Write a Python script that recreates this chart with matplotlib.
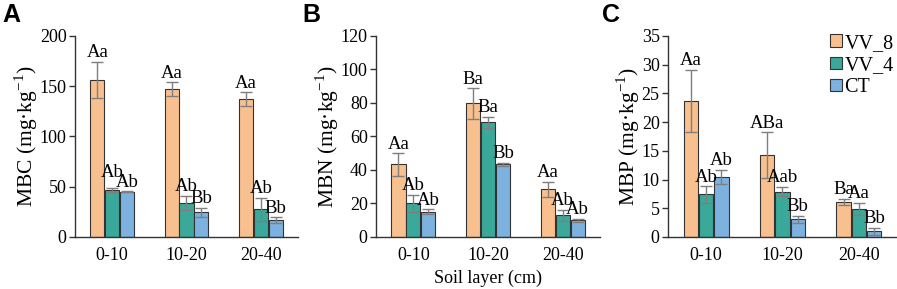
import matplotlib
matplotlib.use("Agg")
import matplotlib.pyplot as plt
import numpy as np

plt.rcParams["font.family"] = ["Liberation Serif", "DejaVu Serif"]
plt.rcParams["mathtext.fontset"] = "custom"
plt.rcParams["mathtext.rm"] = "Liberation Serif"

layers = ["0-10", "10-20", "20-40"]
treatments = ["VV_8", "VV_4", "CT"]
colors = ["#F9C08F", "#3AA99A", "#7DB1E0"]

# MBC
mbc_mean = [[156, 147, 137], [47, 34, 27.5], [45, 24.5, 16.5]]
mbc_err = [[18, 7, 7], [2, 7, 11.5], [0.4, 4.5, 3]]
mbc_lab = [["Aa", "Aa", "Aa"], ["Ab", "Ab", "Ab"], ["Ab", "Bb", "Bb"]]

# MBN
mbn_mean = [[43.3, 79.7, 28.5], [20, 68.4, 13], [15, 43.3, 10]]
mbn_err = [[6.7, 9, 4.5], [5, 3.5, 3.2], [1.5, 1, 0.8]]
mbn_lab = [["Aa", "Ba", "Aa"], ["Ab", "Ba", "Ab"], ["Ab", "Bb", "Ab"]]

# MBP
mbp_mean = [[23.7, 14.2, 6.1], [7.4, 7.9, 4.9], [10.5, 3.1, 1.0]]
mbp_err = [[5.4, 4, 0.6], [1.4, 0.8, 1.0], [1.2, 0.6, 0.6]]
mbp_lab = [["Aa", "ABa", "Ba"], ["Ab", "Aab", "Aa"], ["Ab", "Bb", "Bb"]]

panels = [
    ("A", "MBC", mbc_mean, mbc_err, mbc_lab, 200, 50),
    ("B", "MBN", mbn_mean, mbn_err, mbn_lab, 120, 20),
    ("C", "MBP", mbp_mean, mbp_err, mbp_lab, 35, 5),
]
positions = [
    [0.0836, 0.18, 0.2486, 0.6955],
    [0.4192, 0.18, 0.2497, 0.6955],
    [0.7447, 0.18, 0.2553, 0.6955],
]
letter_x = [2, 302, 602]

fig = plt.figure(figsize=(8.97, 2.89), dpi=100)
x = np.arange(len(layers))
w = 0.19
offsets = [-0.2, 0.0, 0.2]

for (letter, name, mean, err, lab, ymax, step), pos, lx in zip(panels, positions, letter_x):
    ax = fig.add_axes(pos)
    for k in range(3):
        ax.bar(x + offsets[k], mean[k], w, color=colors[k], edgecolor="#333333",
               linewidth=0.8, label=treatments[k], zorder=2)
        ax.errorbar(x + offsets[k], mean[k], yerr=err[k], fmt="none",
                    ecolor="#7f7f7f", elinewidth=1.0, capsize=4, capthick=1.0, zorder=3)
        for i in range(3):
            # the teal label in panel A, 0-10 sits a bit higher in the original
            dy = 5 if (letter == "A" and k == 1 and i == 0) else 0.5
            ax.annotate(lab[k][i], (x[i] + offsets[k], mean[k][i] + err[k][i]),
                        xytext=(0, dy), textcoords="offset points",
                        ha="center", va="bottom", fontsize=13.5)
    ax.set_xlim(-0.5, 2.5)
    ax.set_ylim(0, ymax)
    ax.set_yticks(np.arange(0, ymax + 1, step))
    ax.set_xticks(x)
    ax.set_xticklabels(layers)
    ax.tick_params(axis="x", length=0, labelsize=13, pad=7)
    ax.tick_params(axis="y", length=4, width=1, color="#333333", labelsize=13, pad=2)
    for s in ["top", "right"]:
        ax.spines[s].set_visible(False)
    for s in ["left", "bottom"]:
        ax.spines[s].set_color("#333333")
        ax.spines[s].set_linewidth(1.0)
    ax.set_ylabel(name + r" (mg·kg$^{\mathregular{-1}}$)", fontsize=15.5, labelpad=0)
    fig.text(lx / 897, 1 - 15.5 / 289, letter, fontsize=18, fontweight="bold",
             family="Liberation Sans", ha="left", va="center")
    if letter == "B":
        ax.set_xlabel("Soil layer (cm)", fontsize=13, labelpad=4.5)
    if letter == "C":
        ax.legend(loc="upper right", bbox_to_anchor=(1.02, 1.05), frameon=False,
                  fontsize=14.5, handlelength=0.6, handleheight=0.6,
                  handletextpad=0.1, labelspacing=0.15, borderaxespad=0)

fig.savefig("out.png", dpi=100)
